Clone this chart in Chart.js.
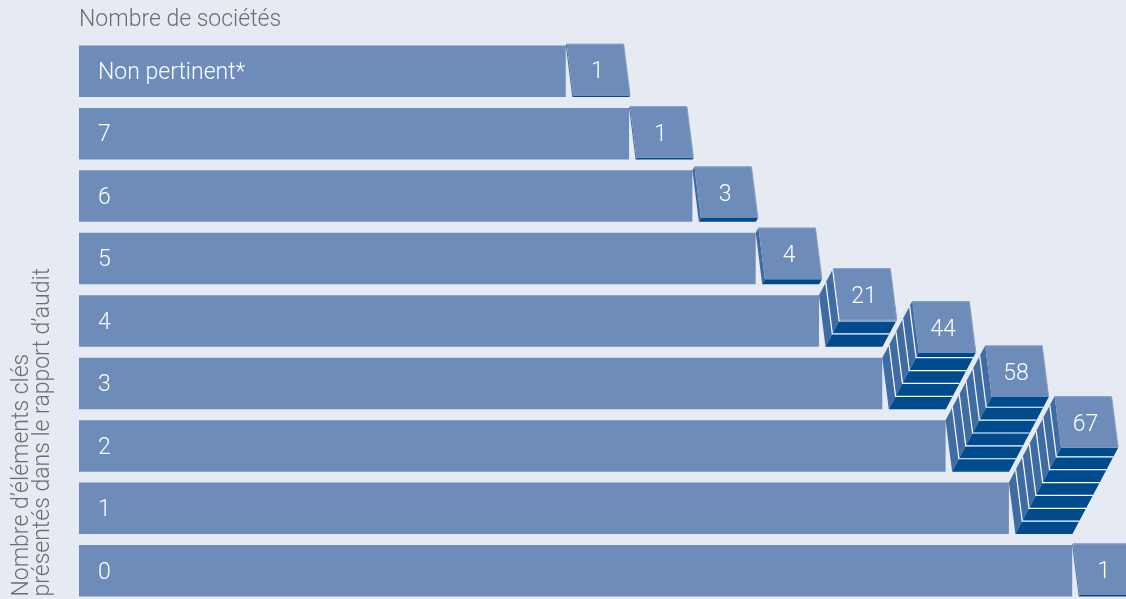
<!DOCTYPE html>
<html><head><meta charset="utf-8">
<script src="https://cdn.jsdelivr.net/npm/chart.js@4.4.0/dist/chart.umd.min.js"></script>
<style>
html,body{margin:0;padding:0;background:#e6eaf3;overflow:hidden;}
#wrap{position:relative;width:1126px;height:602px;}
</style></head>
<body><div id="wrap"><canvas id="c" width="1126" height="602"></canvas></div>
<script>
// ---- data ----
const categories = ['Non pertinent*', '7', '6', '5', '4', '3', '2', '1', '0'];
const companies  = [1, 1, 3, 4, 21, 44, 58, 67, 1];
// decorative staircase length of each bar (in steps)
const staircase  = [8, 9, 10, 11, 12, 13, 14, 15, 16];
const xTitle = 'Nombre de sociétés';
const yTitle = ['Nombre d’éléments clés', 'présentés dans le rapport d’audit'];

// ---- style ----
const FONT = 'Roboto, "Open Sans", sans-serif';
const FSIZE = 23;
const BAR = '#6e8cb9', FACE = '#6e8cb9', LEFT = '#3f6ca3', BOTTOM = '#004b8d';
const GREY = '#6d6d6d';
const X_MIN = 0.31, X_MAX = 16.85;

const stackPlugin = {
  id: 'stacks',
  afterDatasetsDraw(chart) {
    const ctx = chart.ctx;
    const meta = chart.getDatasetMeta(0);
    meta.data.forEach((bar, i) => {
      const v = companies[i];
      const H = bar.height, X = bar.x, T = bar.y - H / 2, B = bar.y + H / 2;
      const W = H * 1.107, sl = H * 0.126, unit = H / 40, k = 0.53;
      const D = Math.max(v * unit, 1.6);
      const back = [[X, T], [X + W, T], [X + W + sl, B], [X + sl, B]];
      const off = s => back.map(p => [p[0] + k * s, p[1] - s]);
      const front = off(D);
      const poly = (pts, fill) => {
        ctx.beginPath();
        pts.forEach((p, j) => j ? ctx.lineTo(p[0], p[1]) : ctx.moveTo(p[0], p[1]));
        ctx.closePath(); ctx.fillStyle = fill; ctx.fill();
      };
      ctx.save();
      poly([back[0], back[3], front[3], front[0]], LEFT);
      poly([back[3], back[2], front[2], front[3]], BOTTOM);
      ctx.strokeStyle = '#ffffff'; ctx.lineWidth = 1.2;
      for (let s = 10; s < v; s += 10) {
        const q = off(s * unit);
        ctx.beginPath();
        ctx.moveTo(q[0][0], q[0][1]); ctx.lineTo(q[3][0], q[3][1]); ctx.lineTo(q[2][0], q[2][1]);
        ctx.stroke();
      }
      poly(front, FACE);
      ctx.strokeStyle = '#88a0c6'; ctx.lineWidth = 1;
      ctx.beginPath(); ctx.moveTo(front[0][0], front[0][1] + 0.5); ctx.lineTo(front[1][0], front[1][1] + 0.5);
      ctx.lineTo(front[2][0], front[2][1]); ctx.stroke();
      const cx = (front[0][0] + front[2][0]) / 2, cy = (front[0][1] + front[2][1]) / 2;
      ctx.fillStyle = '#ffffff';
      ctx.font = '300 ' + FSIZE + 'px ' + FONT;
      ctx.textAlign = 'center'; ctx.textBaseline = 'middle';
      ctx.fillText(String(v), cx - 1, cy + 3);
      ctx.restore();
    });
  }
};

const textPlugin = {
  id: 'texts',
  afterDraw(chart) {
    const ctx = chart.ctx;
    const a = chart.chartArea;
    ctx.save();
    ctx.fillStyle = GREY;
    ctx.font = '300 ' + FSIZE + 'px ' + FONT;
    ctx.textAlign = 'left'; ctx.textBaseline = 'alphabetic';
    ctx.fillText(xTitle, a.left, 26);
    const bottom = chart.getDatasetMeta(0).data[categories.length - 1];
    const yb = bottom.y + bottom.height / 2;
    [28, 49].forEach((x, j) => {
      ctx.save();
      ctx.translate(x, yb);
      ctx.rotate(-Math.PI / 2);
      ctx.fillText(yTitle[j], 0, 0);
      ctx.restore();
    });
    ctx.restore();
  }
};

new Chart(document.getElementById('c'), {
  type: 'bar',
  data: {
    labels: categories,
    datasets: [{
      data: staircase,
      base: X_MIN,
      backgroundColor: BAR,
      borderWidth: 0,
      barPercentage: 1,
      categoryPercentage: 0.825
    }]
  },
  options: {
    indexAxis: 'y',
    responsive: false,
    animation: false,
    layout: { padding: { left: 79, top: 40, right: 0, bottom: 0 } },
    plugins: { legend: { display: false }, tooltip: { enabled: false }, title: { display: false } },
    scales: {
      x: { type: 'linear', display: false, min: X_MIN, max: X_MAX },
      y: {
        grid: { display: false },
        border: { display: false },
        ticks: { z: 1, mirror: true, padding: 19, labelOffset: 2, color: '#ffffff', font: { family: FONT, size: FSIZE, weight: '300' } },
        afterFit: s => { s.width = 0; s.paddingTop = 0; s.paddingBottom = 0; }
      }
    }
  },
  plugins: [stackPlugin, textPlugin]
});
</script>
</body></html>
